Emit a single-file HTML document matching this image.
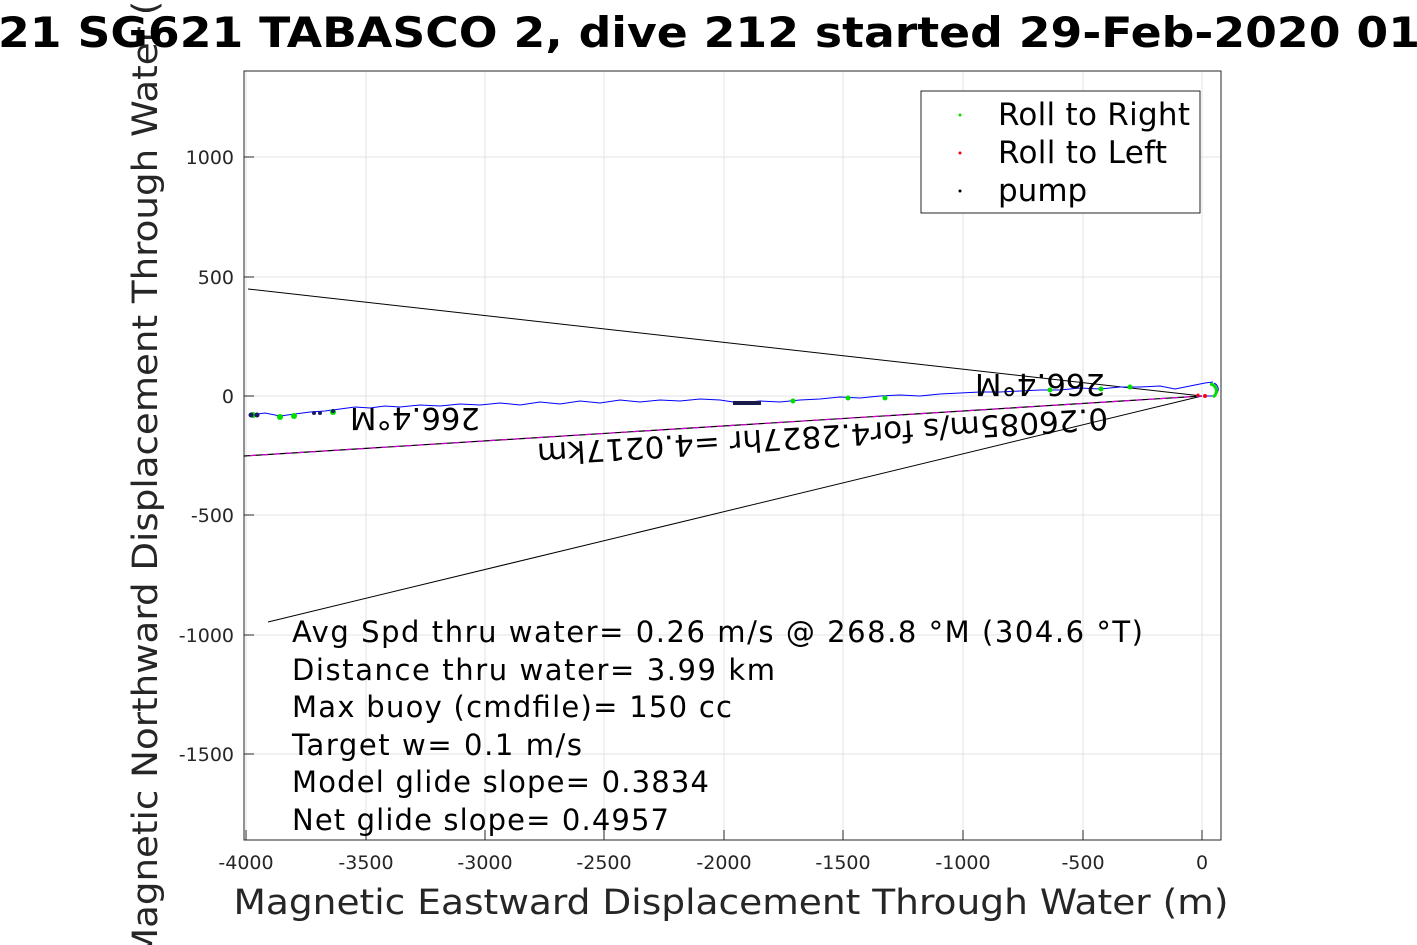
<!DOCTYPE html>
<html><head><meta charset="utf-8"><style>body{margin:0;background:#fff}svg{display:block}text{font-family:"DejaVu Sans","Liberation Sans",sans-serif}</style></head><body>
<svg width="1417" height="945" viewBox="0 0 1417 945" xmlns="http://www.w3.org/2000/svg">
<rect width="1417" height="945" fill="#fff"/>
<g stroke="#e3e3e3" stroke-width="1">
<line x1="246" y1="71" x2="246" y2="840"/><line x1="366" y1="71" x2="366" y2="840"/><line x1="485" y1="71" x2="485" y2="840"/><line x1="604" y1="71" x2="604" y2="840"/><line x1="724" y1="71" x2="724" y2="840"/><line x1="843" y1="71" x2="843" y2="840"/><line x1="963" y1="71" x2="963" y2="840"/><line x1="1083" y1="71" x2="1083" y2="840"/><line x1="1202" y1="71" x2="1202" y2="840"/>
<line x1="244" y1="157" x2="1221" y2="157"/><line x1="244" y1="277" x2="1221" y2="277"/><line x1="244" y1="396" x2="1221" y2="396"/><line x1="244" y1="515" x2="1221" y2="515"/><line x1="244" y1="635" x2="1221" y2="635"/><line x1="244" y1="754" x2="1221" y2="754"/>
</g>
<rect x="244" y="71" width="977" height="769" fill="none" stroke="#262626" stroke-width="1"/>
<g stroke="#262626">
<line x1="246" y1="840" x2="246" y2="830"/><line x1="366" y1="840" x2="366" y2="830"/><line x1="485" y1="840" x2="485" y2="830"/><line x1="604" y1="840" x2="604" y2="830"/><line x1="724" y1="840" x2="724" y2="830"/><line x1="843" y1="840" x2="843" y2="830"/><line x1="963" y1="840" x2="963" y2="830"/><line x1="1083" y1="840" x2="1083" y2="830"/><line x1="1202" y1="840" x2="1202" y2="830"/>
<line x1="244" y1="157" x2="254" y2="157"/><line x1="244" y1="277" x2="254" y2="277"/><line x1="244" y1="396" x2="254" y2="396"/><line x1="244" y1="515" x2="254" y2="515"/><line x1="244" y1="635" x2="254" y2="635"/><line x1="244" y1="754" x2="254" y2="754"/>
</g>
<g font-size="19" fill="#262626" text-anchor="middle">
<text x="246" y="869">-4000</text><text x="366" y="869">-3500</text><text x="485" y="869">-3000</text><text x="604" y="869">-2500</text><text x="724" y="869">-2000</text><text x="843" y="869">-1500</text><text x="963" y="869">-1000</text><text x="1083" y="869">-500</text><text x="1202" y="869">0</text>
</g>
<g font-size="19" fill="#262626" text-anchor="end">
<text x="234" y="164">1000</text><text x="234" y="284">500</text><text x="234" y="403">0</text><text x="234" y="522">-500</text><text x="234" y="642">-1000</text><text x="234" y="761">-1500</text>
</g>
<line x1="1202" y1="396" x2="248" y2="289" stroke="#000" stroke-width="1"/>
<line x1="1202" y1="396" x2="268" y2="622" stroke="#000" stroke-width="1"/>
<line x1="1202" y1="396" x2="244" y2="456" stroke="#000" stroke-width="1.2"/>
<line x1="1202" y1="396" x2="244" y2="456" stroke="#d000d0" stroke-width="1.2" stroke-dasharray="6,6"/>
<path d="M250,415 L265,413 L280,416 L295,414 L310,412 L325,411 L340,409 L355,407 L370,408 L385,406 L400,407 L420,405 L440,406 L460,404 L480,405 L500,403 L520,405 L540,402 L560,404 L580,401 L600,403 L620,400 L640,402 L660,400 L680,401 L700,399 L720,400 L740,403 L760,401 L780,402 L800,400 L820,399 L840,397 L860,398 L880,396 L900,395 L920,396 L940,394 L960,393 L980,392 L1000,392 L1020,391 L1040,390 L1060,390 L1080,388 L1100,389 L1120,387 L1140,387 L1160,386 L1175,389 L1190,386 L1205,383 L1213,382 M1214,383 A8,7 0 0 1 1212,396 L1205,396" fill="none" stroke="#0000ff" stroke-width="1"/>
<g fill="#00dd00">
<circle cx="253" cy="415" r="3"/><circle cx="280" cy="417" r="3"/><circle cx="294" cy="416" r="3"/><circle cx="333" cy="412" r="3"/><circle cx="793" cy="401" r="2.5"/><circle cx="848" cy="398" r="2.5"/><circle cx="885" cy="398" r="2.5"/><circle cx="1050" cy="390" r="2.5"/><circle cx="1101" cy="389" r="2.5"/><circle cx="1130" cy="387" r="2.5"/>
</g>
<path d="M1210,384 A7,7 0 0 1 1213,397" fill="none" stroke="#00dd00" stroke-width="3"/>
<g fill="#1a1a6a">
<circle cx="251" cy="415" r="2.5"/><circle cx="257" cy="415" r="2.5"/><circle cx="314" cy="413" r="2"/><circle cx="320" cy="413" r="2"/><circle cx="333" cy="411" r="2"/>
</g>
<rect x="733" y="401" width="28" height="4" fill="#1a1a4a"/>
<circle cx="1205" cy="396" r="2" fill="#f00"/><circle cx="1198" cy="395" r="1.5" fill="#f00"/>
<g font-size="30" fill="#000" text-anchor="middle">
<text transform="translate(415,408) rotate(180)" textLength="130" lengthAdjust="spacingAndGlyphs">266.4°M</text>
<text transform="translate(1040,374) rotate(180)" textLength="130" lengthAdjust="spacingAndGlyphs">266.4°M</text>
<text transform="translate(822,426) rotate(176.4)" textLength="572" lengthAdjust="spacingAndGlyphs">0.26085m/s for4.2827hr =4.0217km</text>
</g>
<rect x="921" y="91" width="279" height="122" fill="#fff" stroke="#262626"/>
<circle cx="960" cy="115" r="1.5" fill="#00dd00"/><circle cx="960" cy="153" r="1.5" fill="#f00"/><circle cx="960" cy="191" r="1.5" fill="#000"/>
<g font-size="31" fill="#000"><text x="998" y="125" textLength="192">Roll to Right</text><text x="998" y="163" textLength="169">Roll to Left</text><text x="998" y="201">pump</text></g>
<g font-size="29" fill="#000" xml:space="preserve">
<text x="292" y="642" textLength="851">Avg Spd thru water=  0.26 m/s @ 268.8 °M (304.6 °T)</text>
<text x="292" y="680" textLength="483">Distance thru water=  3.99 km</text>
<text x="292" y="717" textLength="440">Max buoy (cmdfile)= 150 cc</text>
<text x="292" y="755" textLength="290">Target w= 0.1 m/s</text>
<text x="292" y="792" textLength="417">Model glide slope= 0.3834</text>
<text x="292" y="830" textLength="377">Net glide slope= 0.4957</text>
</g>
<text x="731" y="914" font-size="35" fill="#262626" text-anchor="middle" textLength="995" lengthAdjust="spacingAndGlyphs">Magnetic Eastward Displacement Through Water (m)</text>
<text transform="translate(157,455) rotate(-90)" font-size="35" fill="#262626" text-anchor="middle" textLength="1010" lengthAdjust="spacingAndGlyphs">Magnetic Northward Displacement Through Water (m)</text>
<text x="-2" y="47" font-size="42" font-weight="bold" fill="#000" textLength="1422" lengthAdjust="spacingAndGlyphs">21 SG621 TABASCO 2, dive 212 started 29-Feb-2020 01</text>
</svg>
</body></html>
